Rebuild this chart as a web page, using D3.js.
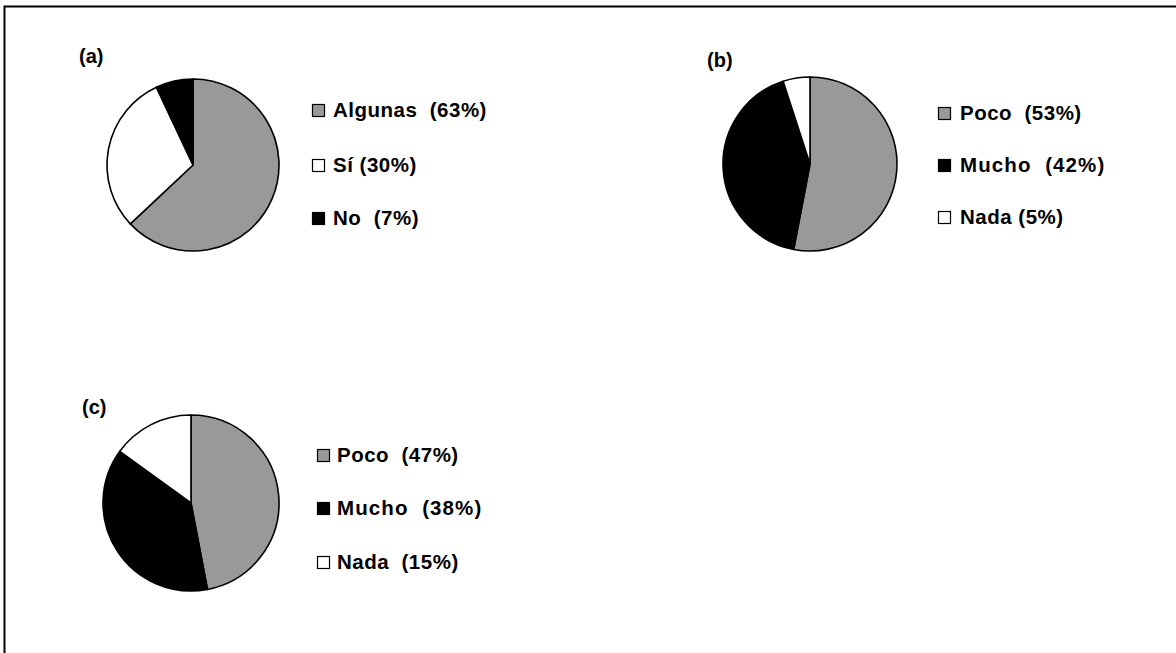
<!DOCTYPE html>
<html>
<head>
<meta charset="utf-8">
<script src="https://cdn.jsdelivr.net/npm/d3@7"></script>
<style>
  html, body { margin: 0; padding: 0; background: #fff; }
  svg { display: block; }
  text { font-family: "Liberation Sans", Arial, sans-serif; font-weight: bold; fill: #000; white-space: pre; }
</style>
</head>
<body>
<svg id="chart" width="1176" height="653"></svg>
<script>
// ---- data ----
const panelLabels = ["(a)", "(b)", "(c)"];
const categoriesA = ["Algunas", "Sí", "No"];
const valuesA = [63, 30, 7];
const legendA = ["Algunas  (63%)", "Sí (30%)", "No  (7%)"];
const categoriesB = ["Poco", "Mucho", "Nada"];
const valuesB = [53, 42, 5];
const legendB = ["Poco  (53%)", "Mucho  (42%)", "Nada (5%)"];
const categoriesC = ["Poco", "Mucho", "Nada"];
const valuesC = [47, 38, 15];
const legendC = ["Poco  (47%)", "Mucho  (38%)", "Nada  (15%)"];

// ---- styles / layout ----
const colorMap = { "Algunas": "#999999", "Sí": "#ffffff", "No": "#000000",
                   "Poco": "#999999", "Mucho": "#000000", "Nada": "#ffffff" };

const panels = [
  { label: panelLabels[0], cats: categoriesA, vals: valuesA, legend: legendA,
    cx: 193, cy: 165, r: 86, lx: 79, ly: 63, legX: 312, legY: [110, 165, 218], textX: 333 },
  { label: panelLabels[1], cats: categoriesB, vals: valuesB, legend: legendB,
    cx: 810, cy: 164, r: 87, lx: 707, ly: 67, legX: 938, legY: [113, 165, 217], textX: 960 },
  { label: panelLabels[2], cats: categoriesC, vals: valuesC, legend: legendC,
    cx: 191, cy: 503, r: 88, lx: 82, ly: 414, legX: 317, legY: [455, 508, 562], textX: 337 }
];

const svg = d3.select("#chart");

// border (extends beyond right and bottom of the viewport)
svg.append("rect")
  .attr("x", 4.5).attr("y", 6.5)
  .attr("width", 1190).attr("height", 700)
  .attr("fill", "none").attr("stroke", "#000").attr("stroke-width", 2);

const pie = d3.pie().sort(null).value(d => d.v);

panels.forEach(p => {
  const g = svg.append("g");
  const data = p.cats.map((c, i) => ({ c, v: p.vals[i] }));
  const arc = d3.arc().innerRadius(0).outerRadius(p.r);

  g.append("g").attr("transform", `translate(${p.cx},${p.cy})`)
    .selectAll("path").data(pie(data)).join("path")
    .attr("d", arc)
    .attr("fill", d => colorMap[d.data.c])
    .attr("stroke", "#000").attr("stroke-width", 1.6)
    .attr("stroke-linejoin", "round");

  g.append("text")
    .attr("x", p.lx).attr("y", p.ly)
    .attr("font-size", 20)
    .text(p.label);

  const sq = 12;
  p.cats.forEach((c, i) => {
    g.append("rect")
      .attr("x", p.legX + 0.5).attr("y", p.legY[i] - sq / 2 + 0.5)
      .attr("width", sq).attr("height", sq)
      .attr("fill", colorMap[c]).attr("stroke", "#000").attr("stroke-width", 1.2);
    g.append("text")
      .attr("x", p.textX).attr("y", p.legY[i])
      .attr("dy", "0.36em")
      .attr("font-size", 20.5)
      .attr("letter-spacing", c === "Mucho" ? 1.1 : 0.5)
      .text(p.legend[i]);
  });
});
</script>
</body>
</html>
